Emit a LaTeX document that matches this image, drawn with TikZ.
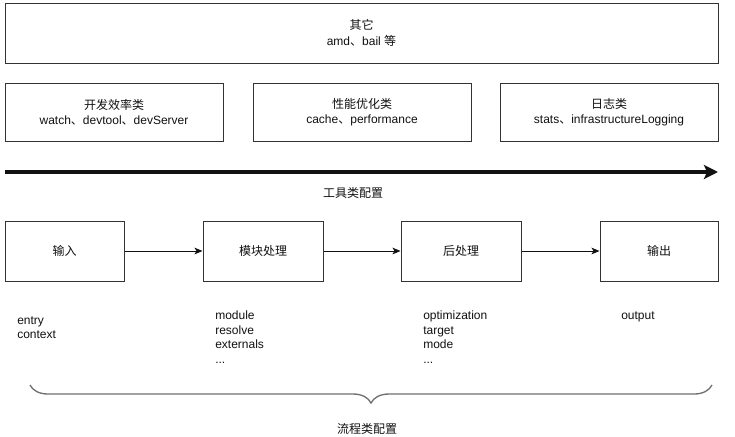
\documentclass[tikz,border=0pt]{standalone}
\usepackage{fontspec}
\usetikzlibrary{arrows.meta,calc,decorations.pathreplacing}
\setmainfont{Liberation Sans}
\newfontfamily\cjk{Noto Sans CJK SC}
\definecolor{ink}{HTML}{111111}
\definecolor{frame}{HTML}{333333}
\definecolor{bracegrey}{HTML}{707070}
\newcommand{\body}{\fontsize{9}{11.5}\selectfont}
\newcommand{\lst}{\fontsize{9}{10.8}\selectfont}
\newcommand{\zh}[1]{{\cjk #1}}
\tikzset{
  cfgbox/.style={draw=frame,line width=0.75pt,fill=white,inner sep=0,align=center,
    font=\body,text=ink},
  listtext/.style={anchor=north west,inner sep=0,align=left,font=\lst,text=ink},
  flowarrow/.style={ink,line width=0.75pt,-{Stealth[length=6pt,width=5pt,inset=1.5pt]}},
}

\begin{document}
\begin{tikzpicture}[x=0.75pt,y=-0.75pt]
\useasboundingbox (0,0) rectangle (735,436);
\fill[white] (0,0) rectangle (735,436);
% tool config
\node[cfgbox,minimum width=713*0.75pt,minimum height=60*0.75pt] (other) at (361.5,33)
  {\zh{其它}\\amd\zh{、}bail \zh{等}};
\node[cfgbox,minimum width=218*0.75pt,minimum height=58*0.75pt] (dev) at (114,112)
  {\zh{开发效率类}\\watch\zh{、}devtool\zh{、}devServer};
\node[cfgbox,minimum width=218*0.75pt,minimum height=58*0.75pt] (perf) at (362,112)
  {\zh{性能优化类}\\cache\zh{、}performance};
\node[cfgbox,minimum width=218*0.75pt,minimum height=58*0.75pt] (log) at (609,112)
  {\zh{日志类}\\stats\zh{、}infrastructureLogging};
\coordinate (toolstart) at (5,172);
\coordinate (toolend) at (718,172);
\draw[ink,line width=2.4pt,-{Stealth[length=14*0.75pt,width=14*0.75pt,inset=3*0.75pt]}] (toolstart) -- (toolend);
\node[inner sep=0,font=\body,text=ink] (toollabel) at (353,193) {\zh{工具类配置}};
% flow config
\node[cfgbox,minimum width=119*0.75pt,minimum height=60*0.75pt] (input) at (64.5,251) {\zh{输入}};
\node[cfgbox,minimum width=120*0.75pt,minimum height=60*0.75pt] (module) at (263,251) {\zh{模块处理}};
\node[cfgbox,minimum width=120*0.75pt,minimum height=60*0.75pt] (post) at (461,251) {\zh{后处理}};
\node[cfgbox,minimum width=118*0.75pt,minimum height=60*0.75pt] (output) at (659,251) {\zh{输出}};
\draw[flowarrow] (input) -- (module);
\draw[flowarrow] (module) -- (post);
\draw[flowarrow] (post) -- (output);
\node[listtext] (inputopts) at (17,316) {entry\\context};
\node[listtext] (moduleopts) at (215,311) {module\\resolve\\externals\\...};
\node[listtext] (postopts) at (423,311) {optimization\\target\\mode\\...};
\node[listtext] (outputopts) at (621,311) {output};
\coordinate (bracestart) at (712,385);
\coordinate (braceend) at (30,385);
\draw[bracegrey,line width=1pt,decorate,decoration={brace,amplitude=18*0.75pt}] (bracestart) -- (braceend);
\node[inner sep=0,font=\body,text=ink] (flowlabel) at (367,429) {\zh{流程类配置}};
\end{tikzpicture}
\end{document}
